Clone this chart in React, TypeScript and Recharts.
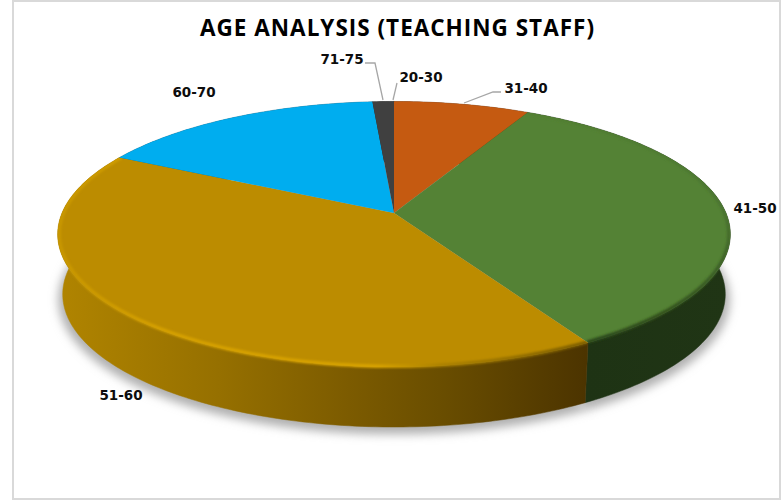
import { PieChart, Pie } from "recharts";

const categories = ["20-30", "31-40", "41-50", "51-60", "60-70", "71-75"];
const values = [0, 7.6, 34.0, 41.0, 16.2, 1.2];
const faceColors = ["#404040", "#C55A11", "#548235", "#BC8C00", "#00ADEF", "#404040"];
const wallFills = ["#262626", "#75350a", "url(#wallGreen)", "url(#wallGold)", "#006a92", "#262626"];
const bevelFills = ["none", "none", "url(#bevelGreen)", "url(#bevelGold)", "none", "none"];

const data = categories.map((name, i) => ({
  name,
  value: values[i],
  fill: faceColors[i],
  wall: wallFills[i],
  bevel: bevelFills[i],
}));

// where the hand placed labels sit in the picture, [text x, text y, leader points]
const labelSpots: Record<string, { x: number; y: number; line?: string }> = {
  "20-30": { x: 421, y: 82, line: "397,83 393,100" },
  "31-40": { x: 526, y: 93, line: "501,92 493,92 464,103" },
  "41-50": { x: 755, y: 213 },
  "51-60": { x: 121, y: 400 },
  "60-70": { x: 194, y: 97 },
  "71-75": { x: 342, y: 64, line: "365,63 375,63 383,100" },
};

const CX = 394;
const CY = 213;
const RADIUS = 332;
const SQUASH = 0.3897; // vertical scale of the disc
const PERSPECTIVE = 0.16; // near edge bigger than far edge
const DEPTH = 60;
const BASE_SCALE = 0.985;

// angle on the disc -> screen point, slightly projective so the apex sits above the rim centre
function rimPoint(cx: number, cy: number, r: number, deg: number, base = false) {
  const t = (deg * Math.PI) / 180;
  const u = Math.cos(t);
  const v = -Math.sin(t);
  const k = 1 - PERSPECTIVE * v;
  const x = (r * u) / k;
  const y = (r * SQUASH * v) / k;
  return base ? [cx + x * BASE_SCALE, cy + y + DEPTH] : [cx + x, cy + y];
}

function arc(cx: number, cy: number, r: number, a0: number, a1: number, base = false) {
  const steps = Math.max(2, Math.ceil(Math.abs(a1 - a0)));
  const pts: number[][] = [];
  for (let i = 0; i <= steps; i++) pts.push(rimPoint(cx, cy, r, a0 + ((a1 - a0) * i) / steps, base));
  return pts;
}

const toPath = (pts: number[][]) => pts.map((p, i) => `${i ? "L" : "M"}${p[0].toFixed(2)} ${p[1].toFixed(2)}`).join(" ");

function wallPath(cx: number, cy: number, r: number, a0: number, a1: number) {
  return `${toPath(arc(cx, cy, r, a0, a1))} ${toPath(arc(cx, cy, r, a1, a0, true)).replace("M", "L")} Z`;
}

function ShadowSector(props: any) {
  const { cx, cy, outerRadius, startAngle, endAngle } = props;
  if (startAngle === endAngle) return <g />;
  const pts = arc(cx, cy + 5, outerRadius * 1.012, startAngle, endAngle, true);
  return <path d={`M${cx} ${cy + DEPTH} ${toPath(pts).replace("M", "L")} Z`} fill="#b0b0b0" stroke="#b0b0b0" filter="url(#softShadow)" />;
}

function WallSector(props: any) {
  const { cx, cy, outerRadius, startAngle, endAngle, payload } = props;
  if (startAngle === endAngle) return <g />;
  return <path d={wallPath(cx, cy, outerRadius, startAngle, endAngle)} fill={payload.wall} stroke={payload.wall} strokeWidth={0.5} />;
}

function FaceSector(props: any) {
  const { cx, cy, outerRadius, startAngle, endAngle, payload } = props;
  if (startAngle === endAngle) return <g />;
  const rim = arc(cx, cy, outerRadius, startAngle, endAngle);
  const face = `M${cx} ${cy} ${toPath(rim).replace("M", "L")} Z`;
  const clipId = `bevel-clip-${payload.name}`;
  return (
    <g>
      <path d={face} fill={payload.fill} />
      {payload.bevel !== "none" && (
        <g>
          <clipPath id={clipId}>
            <path d={face} />
            <path d={wallPath(cx, cy, outerRadius, startAngle, endAngle)} />
          </clipPath>
          <g clipPath={`url(#${clipId})`}>
            <path d={toPath(arc(cx, cy, outerRadius - 1.5, startAngle, endAngle))} fill="none" stroke={payload.bevel} strokeWidth={3.5} filter="url(#bevelBlur)" />
          </g>
        </g>
      )}
    </g>
  );
}

function SliceLabel(props: any) {
  const spot = labelSpots[props.name];
  return (
    <g>
      {spot.line && <polyline points={spot.line} fill="none" stroke="#a6a6a6" strokeWidth={1.3} />}
      <text x={spot.x} y={spot.y} textAnchor="middle" fontFamily="DejaVu Sans" fontWeight="bold" fontSize={13.5} fill="#0d0d0d">
        {props.name}
      </text>
    </g>
  );
}

export default function App() {
  return (
    <div style={{ position: "absolute", left: 0, top: 0, background: "#fff" }}>
      <PieChart width={782} height={501} margin={{ top: 0, right: 0, bottom: 0, left: 0 }}>
        <defs>
          <linearGradient id="wallGold" gradientUnits="userSpaceOnUse" x1="60" y1="0" x2="586" y2="0">
            <stop offset="0" stopColor="#b08400" />
            <stop offset="0.3" stopColor="#967000" />
            <stop offset="0.55" stopColor="#7c5b00" />
            <stop offset="0.72" stopColor="#6a4e00" />
            <stop offset="1" stopColor="#4c3400" />
          </linearGradient>
          <linearGradient id="wallGreen" gradientUnits="userSpaceOnUse" x1="586" y1="0" x2="730" y2="0">
            <stop offset="0" stopColor="#1e3314" />
            <stop offset="1" stopColor="#203515" />
          </linearGradient>
          <linearGradient id="bevelGold" gradientUnits="userSpaceOnUse" x1="60" y1="0" x2="586" y2="0">
            <stop offset="0" stopColor="#c89700" />
            <stop offset="0.2" stopColor="#d6a100" />
            <stop offset="0.6" stopColor="#d8a300" />
            <stop offset="0.72" stopColor="#ad8200" />
            <stop offset="1" stopColor="#7a5c00" />
          </linearGradient>
          <linearGradient id="bevelGreen" gradientUnits="userSpaceOnUse" x1="0" y1="113" x2="0" y2="345">
            <stop offset="0" stopColor="#527f33" />
            <stop offset="0.4" stopColor="#4b7530" />
            <stop offset="1" stopColor="#2a4519" />
          </linearGradient>
          <filter id="softShadow" filterUnits="userSpaceOnUse" x="0" y="0" width="782" height="501">
            <feGaussianBlur stdDeviation="5" />
          </filter>
          <filter id="bevelBlur" filterUnits="userSpaceOnUse" x="0" y="0" width="782" height="501">
            <feGaussianBlur stdDeviation="1.2" />
          </filter>
        </defs>
        <rect x={13} y={1} width={767} height={498} fill="#fff" stroke="#d9d9d9" strokeWidth={2} />
        <text x={397} y={36} textAnchor="middle" fontFamily="Open Sans" fontWeight="bold" fontSize={22.5} fill="#000" textLength={394}>
          AGE ANALYSIS (TEACHING STAFF)
        </text>
        <Pie data={data} dataKey="value" nameKey="name" cx={CX} cy={CY} outerRadius={RADIUS} startAngle={90} endAngle={-270} stroke="none" shape={ShadowSector} isAnimationActive={false} />
        <Pie data={data} dataKey="value" nameKey="name" cx={CX} cy={CY} outerRadius={RADIUS} startAngle={90} endAngle={-270} stroke="none" shape={WallSector} isAnimationActive={false} />
        <Pie data={data} dataKey="value" nameKey="name" cx={CX} cy={CY} outerRadius={RADIUS} startAngle={90} endAngle={-270} stroke="none" shape={FaceSector} label={SliceLabel} labelLine={false} isAnimationActive={false} />
      </PieChart>
    </div>
  );
}
